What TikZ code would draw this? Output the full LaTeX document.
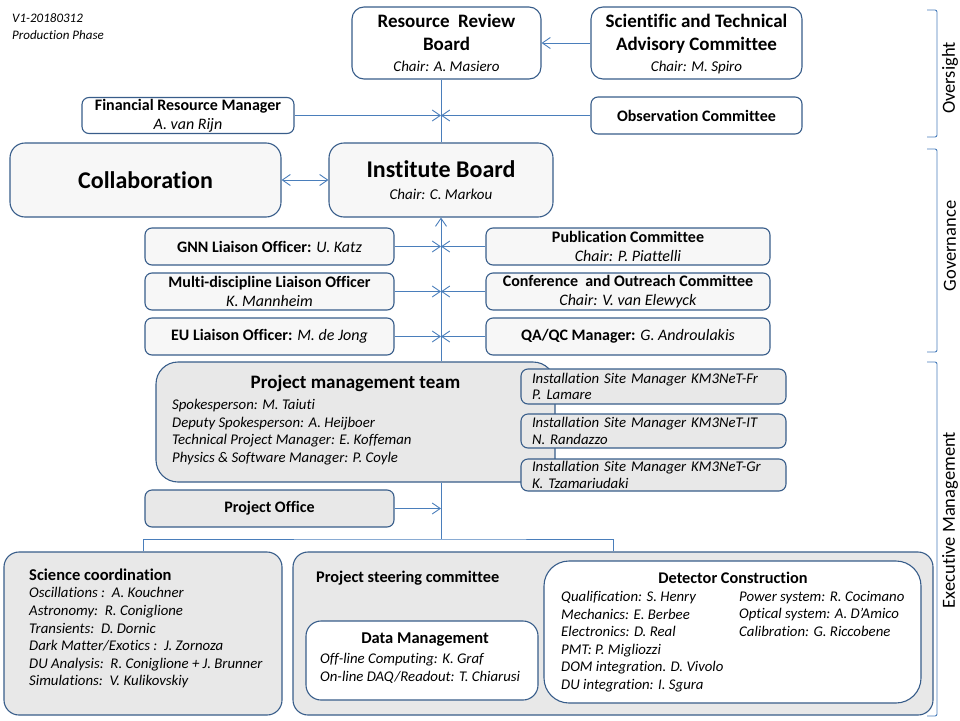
\documentclass[tikz,border=0pt]{standalone}
\usepackage{fontspec}
\setmainfont{Carlito}[Ligatures=NoCommon]
\usetikzlibrary{arrows.meta}
\definecolor{boxline}{RGB}{56,93,138}
\definecolor{conline}{RGB}{74,126,187}
\definecolor{lightfill}{RGB}{247,247,247}
\definecolor{greyfill}{RGB}{232,232,232}
\newcommand{\fs}[2]{\fontsize{#1}{#2}\selectfont}

\begin{document}
\begin{tikzpicture}[x=1pt,y=-1pt,
    box/.style={draw=boxline,line width=1.1pt,rounded corners=7pt,inner sep=0pt,align=center,fill=white,font=\fs{16}{19}},
    conn/.style={draw=conline,line width=0.9pt},
    arr/.style={conn,-{Straight Barb[length=8pt,width=11pt]}},
    txt/.style={inner sep=0pt,align=left,font=\fs{14.8}{17.6}\itshape},
    brace/.style={draw=conline,line width=0.9pt,rounded corners=2pt},
    side/.style={rotate=90,inner sep=0pt,font=\fs{18.5}{21}}]
    \useasboundingbox (0,0) rectangle (960,720);

    \node[txt, anchor=north west, font=\fs{13}{17}\itshape] (version) at (12,13) {V1-20180312\\Production Phase};

    % oversight
    \node[box, minimum width=189pt, minimum height=72pt, rounded corners=12pt, text depth=0pt, font=\fs{19}{22.5}] (rrb) at (446.5,43) {\textbf{Resource\ \ Review}\\\textbf{Board}\\[-1pt]{\fs{15}{18}\itshape Chair: A. Masiero}};
    \node[box, minimum width=211pt, minimum height=72pt, rounded corners=12pt, text depth=0pt, font=\fs{19}{22.5}] (stac) at (696.5,43) {\textbf{Scientific and Technical}\\\textbf{Advisory Committee}\\[-1pt]{\fs{15}{18}\itshape Chair: M. Spiro}};
    \node[box, minimum width=212pt, minimum height=36pt] (frm) at (188,115.5) {\textbf{Financial Resource Manager}\\\textit{A. van Rijn}};
    \node[box, minimum width=211pt, minimum height=37pt] (obs) at (696.5,115.5) {\textbf{Observation Committee}};

    % governance
    \node[box, fill=lightfill, minimum width=271pt, minimum height=74pt, rounded corners=15pt, font=\fs{24}{27}\bfseries] (collab) at (145.5,180) {Collaboration};
    \node[box, fill=lightfill, minimum width=224pt, minimum height=74pt, rounded corners=15pt, text depth=0pt, font=\fs{24}{25}] (ib) at (441,180) {\textbf{Institute Board}\\[-3pt]{\fs{15}{18}\itshape Chair: C. Markou}};
    \node[box, fill=lightfill, minimum width=249pt, minimum height=37pt] (gnn) at (269.5,246.5) {\textbf{GNN Liaison Officer:} \textit{U. Katz}};
    \node[box, fill=lightfill, minimum width=249pt, minimum height=37pt] (multi) at (269.5,291.5) {\textbf{Multi-discipline Liaison Officer}\\\textit{K. Mannheim}};
    \node[box, fill=lightfill, minimum width=249pt, minimum height=37pt] (eu) at (269.5,336.5) {\textbf{EU Liaison Officer:} \textit{M. de Jong}};
    \node[box, fill=lightfill, minimum width=284pt, minimum height=37pt] (pub) at (628,246.5) {\textbf{Publication Committee}\\\textit{Chair: P. Piattelli}};
    \node[box, fill=lightfill, minimum width=284pt, minimum height=37pt] (conf) at (628,291.5) {\textbf{Conference\ \ and Outreach Committee}\\\textit{Chair: V. van Elewyck}};
    \node[box, fill=lightfill, minimum width=284pt, minimum height=37pt] (qa) at (628,336.5) {\textbf{QA/QC Manager:} \textit{G. Androulakis}};

    % executive management
    \node[box, fill=greyfill, minimum width=399pt, minimum height=120pt, rounded corners=22pt] (pmt) at (355.5,422) {};
    \node[inner sep=0pt, font=\fs{19}{22}\bfseries] (pmttitle) at (355.5,383) {Project management team};
    \node[txt, anchor=north west] (pmtlist) at (172,399) {Spokesperson: M. Taiuti\\Deputy Spokesperson: A. Heijboer\\Technical Project Manager: E. Koffeman\\Physics \& Software Manager: P. Coyle};
    \node[box, fill=greyfill, minimum width=265pt, minimum height=35pt, text width=243pt, align=left, font=\fs{14.8}{16.2}\itshape] (ismfr) at (653.5,386.5) {Installation Site Manager KM3NeT-Fr\\P. Lamare};
    \node[box, fill=greyfill, minimum width=265pt, minimum height=34pt, text width=243pt, align=left, font=\fs{14.8}{16.2}\itshape] (ismit) at (653.5,431) {Installation Site Manager KM3NeT-IT\\N. Randazzo};
    \node[box, fill=greyfill, minimum width=265pt, minimum height=32pt, text width=243pt, align=left, font=\fs{14.8}{16.2}\itshape] (ismgr) at (653.5,475) {Installation Site Manager KM3NeT-Gr\\K. Tzamariudaki};
    \node[box, fill=greyfill, minimum width=249pt, minimum height=37pt] (po) at (269.5,508.5) {\textbf{Project Office}};

    \node[box, fill=greyfill, minimum width=278pt, minimum height=163pt, rounded corners=15pt] (sci) at (143,633.5) {};
    \node[txt, anchor=north west] (scilist) at (29,568.5) {{\normalfont\bfseries\fs{16.5}{17.6}Science coordination}\\Oscillations :\ \ A. Kouchner\\Astronomy:\ \ R. Coniglione\\Transients:\ \ D. Dornic\\Dark Matter/Exotics :\ \ J. Zornoza\\DU Analysis:\ \ R. Coniglione + J. Brunner\\Simulations:\ \ V. Kulikovskiy};
    \node[box, fill=greyfill, minimum width=640pt, minimum height=163pt, rounded corners=15pt] (psc) at (613,633.5) {};
    \node[inner sep=0pt, anchor=west, font=\fs{16.3}{19}\bfseries] (psctitle) at (316,578) {Project steering committee};
    \node[box, minimum width=232pt, minimum height=79pt, rounded corners=15pt] (dm) at (422,660.5) {};
    \node[inner sep=0pt, font=\fs{16.5}{19}\bfseries] (dmtitle) at (425,640) {Data Management};
    \node[txt, anchor=north west] (dmlist) at (320,653.5) {Off-line Computing: K. Graf\\On-line DAQ/Readout: T. Chiarusi};
    \node[box, minimum width=377pt, minimum height=142pt, rounded corners=25pt] (dc) at (732.5,632) {};
    \node[inner sep=0pt, font=\fs{16.3}{19}\bfseries] (dctitle) at (733,578) {Detector Construction};
    \node[txt, anchor=north west] (dcleft) at (561,591) {Qualification: S. Henry\\Mechanics: E. Berbee\\Electronics: D. Real\\PMT: P. Migliozzi\\DOM integration. D. Vivolo\\DU integration: I. Sgura};
    \node[txt, anchor=north west] (dcright) at (739,591) {Power system: R. Cocimano\\Optical system: A. D’Amico\\Calibration: G. Riccobene};

    % connectors
    \draw[arr] (stac.west) -- (rrb.east);
    \draw[conn] (rrb.south -| ib.north) -- (ib.north);
    \draw[arr] (frm.east) -- (frm.east -| ib.north);
    \draw[arr] (obs.west) -- (obs.west -| ib.north);
    \draw[conn, {Straight Barb[length=8pt,width=11pt]}-{Straight Barb[length=8pt,width=11pt]}] (collab.east) -- (ib.west);
    \draw[arr] (pmt.north -| ib.south) -- (ib.south);
    \foreach \nm in {gnn,multi,eu}
        \draw[arr] (\nm.east) -- (\nm.east -| ib.south);
    \foreach \nm in {pub,conf,qa}
        \draw[arr] (\nm.west) -- (\nm.west -| ib.south);
    \coordinate (split) at (441,539);
    \draw[conn] (pmt.south -| ib.south) -- (split);
    \draw[conn] (sci.north) |- (split) -| (psc.north);
    \draw[arr] (po.east) -- (po.east -| ib.south);

    % side brackets
    \draw[brace] (927,10) -- (937,10) -- (937,137) -- (927,137);
    \node[side] (oversight) at (950,78) {Oversight};
    \draw[brace] (927,149) -- (937,149) -- (937,352) -- (927,352);
    \node[side] (governance) at (950,246) {Governance};
    \draw[brace] (927,362) -- (937,362) -- (937,716) -- (927,716);
    \node[side] (exec) at (950,520) {Executive Management};
\end{tikzpicture}
\end{document}
